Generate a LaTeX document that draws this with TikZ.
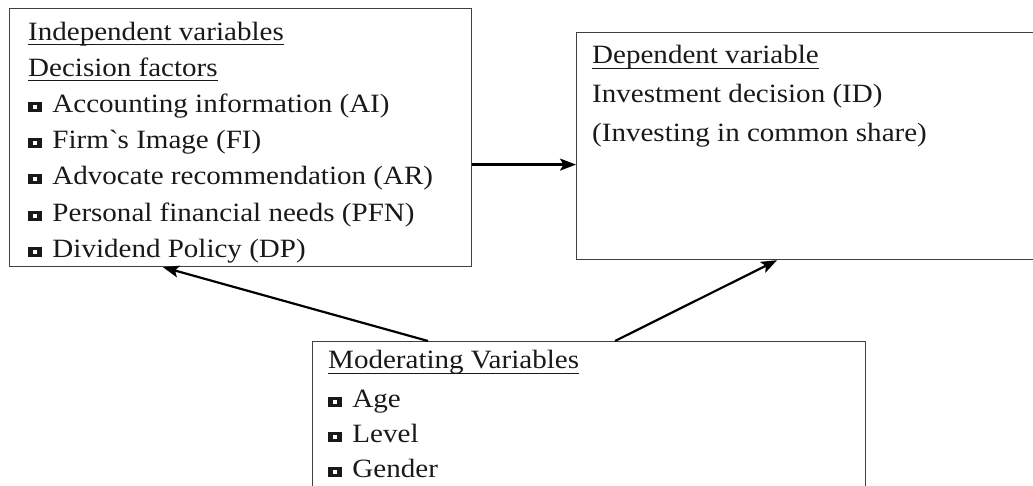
\documentclass[tikz,border=0pt]{standalone}
\usepackage{fontspec}
\setmainfont{Liberation Serif}[FakeStretch=1.1]
\usetikzlibrary{arrows.meta}

% square bullet: black square with a small white hole
\newcommand{\sqb}{\makebox[17pt][l]{\raisebox{0.5pt}{\rule{13.4pt}{10pt}}\hspace{-9pt}\raisebox{3.5pt}{\color{white}\rule{4.8pt}{4pt}}}}
% underlined heading
\newcommand{\hd}[1]{\setbox0\hbox{#1}\rlap{\rule[-5pt]{\wd0}{1.3pt}}\box0}

\begin{document}
\begin{tikzpicture}[x=1pt,y=-1pt,
  box/.style={draw=black!75,line width=1.2pt,anchor=north west,inner sep=0pt},
  txt/.style={anchor=north west,inner sep=0pt,align=left,text=black!90,
    font=\fontsize{26.4pt}{36.2pt}\selectfont},
  link/.style={line width=2.2pt,-{Stealth[length=16pt,width=12pt,inset=3.5pt]}}]
  \useasboundingbox (0,0) rectangle (1033,486);
  \clip (0,0) rectangle (1033,486);

  % Boxes
  \node[box,minimum width=462pt,minimum height=258pt] (indep) at (9,8) {};
  \node[box,minimum width=470pt,minimum height=227pt] (dep) at (576,32) {};
  \node[box,minimum width=553pt,minimum height=170pt] (moder) at (312,341) {};

  % Box texts
  \node[txt] (indeptxt) at ([xshift=19pt,yshift=-13.6pt]indep.north west)
    {\hd{Independent variables}\\
     \hd{Decision factors}\\
     \sqb{} Accounting information (AI)\\
     \sqb{} Firm\textasciigrave s Image (FI)\\
     \sqb{} Advocate recommendation (AR)\\
     \sqb{} Personal financial needs (PFN)\\
     \sqb{} Dividend Policy (DP)};
  \node[txt,font=\fontsize{26.4pt}{38.7pt}\selectfont] (deptxt)
    at ([xshift=16pt,yshift=-13.4pt]dep.north west)
    {\hd{Dependent variable}\\
     Investment decision (ID)\\
     (Investing in common share)};
  \node[txt,font=\fontsize{26.4pt}{35pt}\selectfont] (modertxt)
    at ([xshift=16pt,yshift=-9.4pt]moder.north west)
    {\hd{Moderating Variables}\\[4pt]
     \sqb{} Age\\
     \sqb{} Level\\
     \sqb{} Gender};

  % Arrows
  \coordinate (mid) at ([yshift=-27pt]indep.east);
  \draw[link] (mid) -- (mid -| dep.west);
  \draw[link] ([xshift=116pt]moder.north west) -- ([xshift=154pt]indep.south west);
  \draw[link] ([xshift=303pt]moder.north west) -- ([xshift=201pt]dep.south west);
\end{tikzpicture}
\end{document}
